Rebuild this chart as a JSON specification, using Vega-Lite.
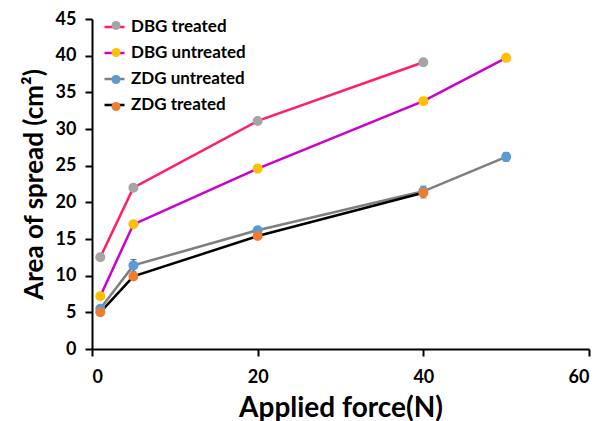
{
  "$schema": "https://vega.github.io/schema/vega-lite/v6.json",
  "width": 497,
  "height": 330,
  "autosize": {"type": "none"},
  "padding": {"left": 92, "top": 19, "right": 15, "bottom": 72},
  "background": "white",
  "config": {
    "view": {"stroke": null},
    "font": "Lato",
    "axis": {
      "grid": false,
      "domainColor": "black",
      "domainWidth": 2,
      "tickColor": "black",
      "tickWidth": 2,
      "tickSize": 7,
      "labelFont": "Lato",
      "labelFontWeight": "bold",
      "labelFontSize": 18,
      "labelColor": "black",
      "titleFont": "Lato",
      "titleFontWeight": "bold",
      "titleColor": "black"
    },
    "legend": {
      "labelFont": "Lato",
      "labelFontWeight": "bold",
      "labelFontSize": 17,
      "labelColor": "black"
    }
  },
  "data": {
    "values": [
      {"series": "DBG treated", "force": 1, "area": 12.5},
      {"series": "DBG treated", "force": 5, "area": 22.0},
      {"series": "DBG treated", "force": 20, "area": 31.1},
      {"series": "DBG treated", "force": 40, "area": 39.1},
      {"series": "DBG untreated", "force": 1, "area": 7.2},
      {"series": "DBG untreated", "force": 5, "area": 17.0},
      {"series": "DBG untreated", "force": 20, "area": 24.6},
      {"series": "DBG untreated", "force": 40, "area": 33.8},
      {"series": "DBG untreated", "force": 50, "area": 39.7},
      {"series": "ZDG untreated", "force": 1, "area": 5.5, "lo": 5.3, "hi": 5.7},
      {"series": "ZDG untreated", "force": 5, "area": 11.4, "lo": 10.6, "hi": 12.2},
      {"series": "ZDG untreated", "force": 20, "area": 16.2, "lo": 15.9, "hi": 16.5},
      {"series": "ZDG untreated", "force": 40, "area": 21.5, "lo": 20.8, "hi": 22.2},
      {"series": "ZDG untreated", "force": 50, "area": 26.2, "lo": 25.6, "hi": 26.8},
      {"series": "ZDG treated", "force": 1, "area": 5.0, "lo": 4.8, "hi": 5.2},
      {"series": "ZDG treated", "force": 5, "area": 9.9, "lo": 9.6, "hi": 10.2},
      {"series": "ZDG treated", "force": 20, "area": 15.4, "lo": 15.1, "hi": 15.7},
      {"series": "ZDG treated", "force": 40, "area": 21.3, "lo": 20.6, "hi": 22.0}
    ]
  },
  "encoding": {
    "x": {
      "field": "force", "type": "quantitative",
      "scale": {"domain": [0, 60], "nice": false},
      "axis": {"values": [0, 20, 40, 60], "title": "Applied force(N)", "titleFontSize": 28, "labelPadding": 12, "titlePadding": 8}
    }
  },
  "layer": [
    {
      "mark": {"type": "line", "strokeWidth": 2.5},
      "encoding": {
        "y": {
          "field": "area", "type": "quantitative",
          "scale": {"domain": [0, 45], "nice": false},
          "axis": {"values": [0, 5, 10, 15, 20, 25, 30, 35, 40, 45], "title": "Area of spread (cm²)", "titleFontSize": 26, "labelPadding": 9, "titlePadding": 8}
        },
        "stroke": {
          "field": "series", "type": "nominal",
          "scale": {
            "domain": ["DBG treated", "DBG untreated", "ZDG untreated", "ZDG treated"],
            "range": ["#ff1f66", "#cc00cc", "#7f7f7f", "#000000"]
          },
          "legend": {
            "title": null, "orient": "none", "legendX": 11, "legendY": -3.5,
            "symbolType": "stroke", "symbolSize": 400, "symbolStrokeWidth": 2.5,
            "labelOffset": 5, "rowPadding": 6, "padding": 0
          }
        }
      }
    },
    {
      "transform": [{"filter": "datum.lo != null"}],
      "mark": {"type": "errorbar", "ticks": {"size": 6, "color": "#404040", "strokeWidth": 1.5}, "rule": {"color": "#404040", "strokeWidth": 1.5}},
      "encoding": {
        "y": {
          "field": "lo", "type": "quantitative",
          "scale": {"domain": [0, 45], "nice": false},
          "axis": {"values": [0, 5, 10, 15, 20, 25, 30, 35, 40, 45], "title": "Area of spread (cm²)", "titleFontSize": 26, "labelPadding": 9, "titlePadding": 8}
        },
        "y2": {"field": "hi"}
      }
    },
    {
      "mark": {"type": "point", "filled": true, "size": 100, "opacity": 1},
      "encoding": {
        "y": {
          "field": "area", "type": "quantitative",
          "scale": {"domain": [0, 45], "nice": false},
          "axis": {"values": [0, 5, 10, 15, 20, 25, 30, 35, 40, 45], "title": "Area of spread (cm²)", "titleFontSize": 26, "labelPadding": 9, "titlePadding": 8}
        },
        "fill": {
          "field": "series", "type": "nominal",
          "sort": ["DBG treated", "DBG untreated", "ZDG untreated", "ZDG treated"],
          "scale": {
            "range": ["#a5a5a5", "#ffc000", "#5b9bd5", "#ed7d31"]
          },
          "legend": {
            "title": null, "orient": "none", "legendX": 15.5, "legendY": -2,
            "symbolType": "circle", "symbolSize": 81, "symbolStrokeWidth": 0,
            "labelOffset": 0, "rowPadding": 9, "padding": 0, "labelExpr": "''"
          }
        }
      }
    }
  ]
}
